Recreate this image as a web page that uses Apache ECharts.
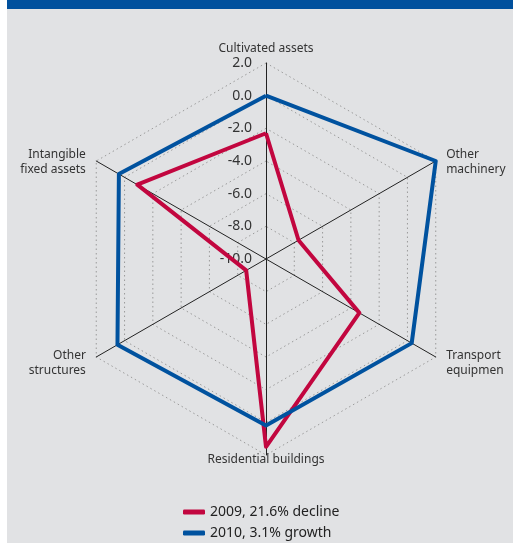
<!DOCTYPE html>
<html>
<head>
<meta charset="utf-8">
<script src="https://cdn.jsdelivr.net/npm/echarts@6/dist/echarts.min.js"></script>
<style>
  html, body { margin: 0; padding: 0; background: #ffffff; }
  #chart { position: absolute; left: 7px; top: 0; width: 506px; height: 543px; background: #e1e2e4; }
</style>
</head>
<body>
<div id="chart"></div>
<script>
// Indicators, listed counter-clockwise from the top axis
const indicators = ['Cultivated assets', 'Intangible\nfixed assets', 'Other\nstructures',
                    'Residential buildings', 'Transport\nequipmen', 'Other\nmachinery'];
const seriesNames = ['2009, 21.6% decline', '2010, 3.1% growth'];
const values2009 = [-2.3, -0.9, -8.6, 1.5, -3.4, -7.7];
const values2010 = [0.0, 0.4, 0.5, 0.2, 0.3, 2.0];
const axisMin = -10, axisMax = 2, axisStep = 2;

const FONT = '"Noto Sans", "Open Sans", sans-serif';
const RED = '#c2063f';
const BLUE = '#00529f';

const chart = echarts.init(document.getElementById('chart'));

const indicatorOpts = indicators.map((name, i) => {
  const o = { name: name, min: axisMin, max: axisMax, interval: axisStep };
  if (i === 0) {
    o.axisLabel = {
      show: true, color: '#333', fontSize: 14, fontFamily: FONT, margin: 14,
      formatter: v => Number(v).toFixed(1)
    };
  }
  return o;
});

// Names are centred on their anchor; blank lines nudge them above or below it
function nameText(name) {
  const i = indicators.indexOf(name);
  if (i === 3) return name + '\n';                     // bottom
  if (i === 1 || i === 5) return '\n' + name;          // upper sides
  return name;                                          // top and lower sides
}

const legendText = { color: '#222', fontSize: 14, fontFamily: FONT };
const legendBase = { orient: 'vertical', left: 171, itemWidth: 22, itemHeight: 5, icon: 'roundRect', textStyle: legendText };

chart.setOption({
  animation: false,
  graphic: [{
    type: 'rect', left: 0, top: 0, z: 10,
    shape: { width: 506, height: 9 },
    style: { fill: '#00509d' }
  }],
  legend: [
    Object.assign({}, legendBase, { top: 500, data: [seriesNames[0]] }),
    Object.assign({}, legendBase, { top: 521, data: [seriesNames[1]] })
  ],
  radar: {
    center: [259, 259],
    radius: 196,
    startAngle: 90,
    splitNumber: 6,
    shape: 'polygon',
    nameGap: 12,
    axisName: {
      color: '#333', fontSize: 12, fontFamily: FONT, lineHeight: 15,
      verticalAlign: 'middle', formatter: nameText
    },
    indicator: indicatorOpts,
    axisLine: { lineStyle: { color: '#222', width: 1 } },
    axisTick: { show: false },
    axisLabel: { show: false },
    splitLine: { lineStyle: { color: '#9a9a9a', type: [1.5, 3], width: 1 } },
    splitArea: { show: false }
  },
  series: [{
    type: 'radar',
    symbol: 'none',
    data: [
      { name: seriesNames[0], value: values2009,
        lineStyle: { color: RED, width: 4 }, itemStyle: { color: RED } },
      { name: seriesNames[1], value: values2010,
        lineStyle: { color: BLUE, width: 4 }, itemStyle: { color: BLUE } }
    ]
  }]
});
</script>
</body>
</html>
